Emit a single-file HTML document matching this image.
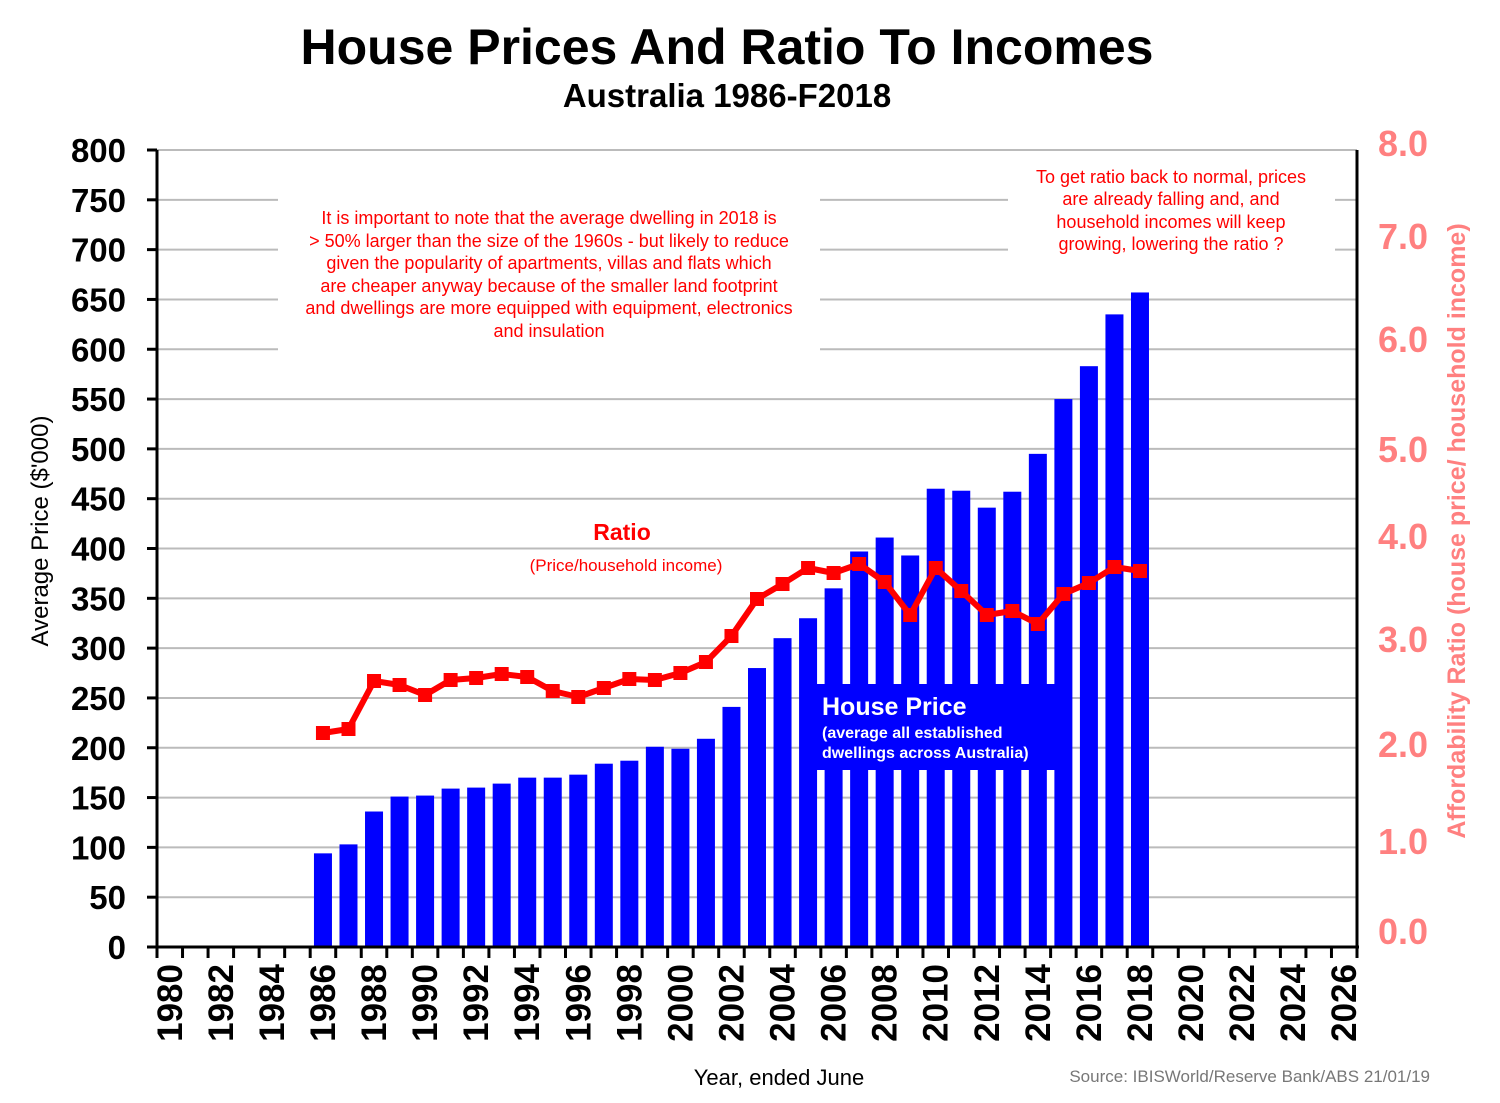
<!DOCTYPE html>
<html><head><meta charset="utf-8"><style>body{margin:0;background:#fff}svg{display:block}text{font-family:"Liberation Sans",Arial,sans-serif}</style></head>
<body>
<svg width="1500" height="1103" viewBox="0 0 1500 1103" xmlns="http://www.w3.org/2000/svg">
<rect width="1500" height="1103" fill="#fff"/>
<text x="727" y="64" font-size="50" font-weight="bold" text-anchor="middle">House Prices And Ratio To Incomes</text>
<text x="727" y="107" font-size="33" font-weight="bold" text-anchor="middle">Australia 1986-F2018</text>
<g id="grid" stroke="#bbb" stroke-width="2"></g>
<g id="bars" fill="#0000ff"></g>
<rect x="278" y="196" width="542" height="156" fill="#fff"/>
<g font-size="18" fill="#f00" text-anchor="middle">
<text x="549" y="224">It is important to note that the average dwelling in 2018 is</text>
<text x="549" y="247">&gt; 50% larger than the size of the 1960s - but likely to reduce</text>
<text x="549" y="269">given the popularity of apartments, villas and flats which</text>
<text x="549" y="292">are cheaper anyway because of the smaller land footprint</text>
<text x="549" y="314">and dwellings are more equipped with equipment, electronics</text>
<text x="549" y="337">and insulation</text>
</g>
<rect x="1008" y="160" width="327" height="98" fill="#fff"/>
<g font-size="18" fill="#f00" text-anchor="middle">
<text x="1171" y="183">To get ratio back to normal, prices</text>
<text x="1171" y="205">are already falling and, and</text>
<text x="1171" y="228">household incomes will keep</text>
<text x="1171" y="250">growing, lowering the ratio ?</text>
</g>
<text x="622" y="540" font-size="23" font-weight="bold" fill="#f00" text-anchor="middle">Ratio</text>
<text x="626" y="571" font-size="17" fill="#f00" text-anchor="middle">(Price/household income)</text>
<rect x="803" y="684" width="267" height="86" fill="#0000ff"/>
<text x="822" y="715" font-size="25" font-weight="bold" fill="#fff">House Price</text>
<text x="822" y="738" font-size="16" font-weight="bold" fill="#fff">(average all established</text>
<text x="822" y="758" font-size="16" font-weight="bold" fill="#fff">dwellings across Australia)</text>
<polyline id="ratio" fill="none" stroke="#f00" stroke-width="6" stroke-linejoin="round"/>
<g id="marks" fill="#f00"></g>
<g stroke="#000" stroke-width="3" fill="none">
<line x1="157" y1="150" x2="157" y2="949"/>
<line x1="147" y1="947" x2="1359" y2="947"/>
<line x1="1357" y1="150" x2="1357" y2="949"/>
</g>
<g id="ticks" stroke="#000" stroke-width="3"></g>
<g id="ylab" font-size="33" font-weight="bold" text-anchor="end"></g>
<g id="rlab" font-size="36" font-weight="bold" fill="#ff8080"></g>
<g id="xlab" font-size="35" font-weight="bold" text-anchor="end"></g>
<text transform="translate(48,531) rotate(-90)" font-size="24" text-anchor="middle">Average Price ($'000)</text>
<text transform="translate(1465,531) rotate(-90)" font-size="25" font-weight="bold" fill="#ff8080" text-anchor="middle">Affordability Ratio  (house price/ household income)</text>
<text x="779" y="1085" font-size="22" text-anchor="middle">Year, ended June</text>
<text x="1430" y="1082" font-size="17" fill="#777" text-anchor="end">Source: IBISWorld/Reserve Bank/ABS  21/01/19</text>
</svg>
<script>
const NS="http://www.w3.org/2000/svg";
function el(p,t,a,txt){const e=document.createElementNS(NS,t);for(const k in a)e.setAttribute(k,a[k]);if(txt!=null)e.textContent=txt;document.getElementById(p).appendChild(e);return e;}
const Y=v=>947-v*0.99625, W=1200/47, X=yr=>157+(yr-1980+0.5)*W;
for(let v=50;v<=800;v+=50){el('grid','line',{x1:157,y1:Y(v),x2:1357,y2:Y(v)});}
for(let v=0;v<=800;v+=50){el('ticks','line',{x1:147,y1:Y(v),x2:157,y2:Y(v)});el('ylab','text',{x:126,y:Y(v)+12},v);}
for(let i=0;i<=47;i++){const x=157+i*W;el('ticks','line',{x1:x,y1:947,x2:x,y2:958});}
for(let yr=1980;yr<=2026;yr+=2){const x=X(yr);el('xlab','text',{transform:`translate(${x+12},964) rotate(-90)`},yr);}
const rl=[[0,932],[1,842],[2,745],[3,640],[4,537],[5,450],[6,340],[7,237],[8,144]];
rl.forEach(([v,y])=>el('rlab','text',{x:1378,y:y+12},v.toFixed(1)));
const P=[94,103,136,151,152,159,160,164,170,170,173,184,187,201,199,209,241,280,310,330,360,397,411,393,460,458,441,457,495,550,583,635,657];
P.forEach((v,i)=>{const x=X(1986+i);el('bars','rect',{x:x-9,y:Y(v),width:18,height:947-Y(v)});});
const R=[733,729,681,685,695,680,678,674,677,691,697,688,679,680,673,662,636,599,584,568,573,564,582,615,568,591,615,611,624,594,583,567,571];
document.getElementById('ratio').setAttribute('points',R.map((y,i)=>X(1986+i)+','+y).join(' '));
R.forEach((y,i)=>{const x=X(1986+i);el('marks','rect',{x:x-7,y:y-7,width:14,height:14});});
</script>
</body></html>
